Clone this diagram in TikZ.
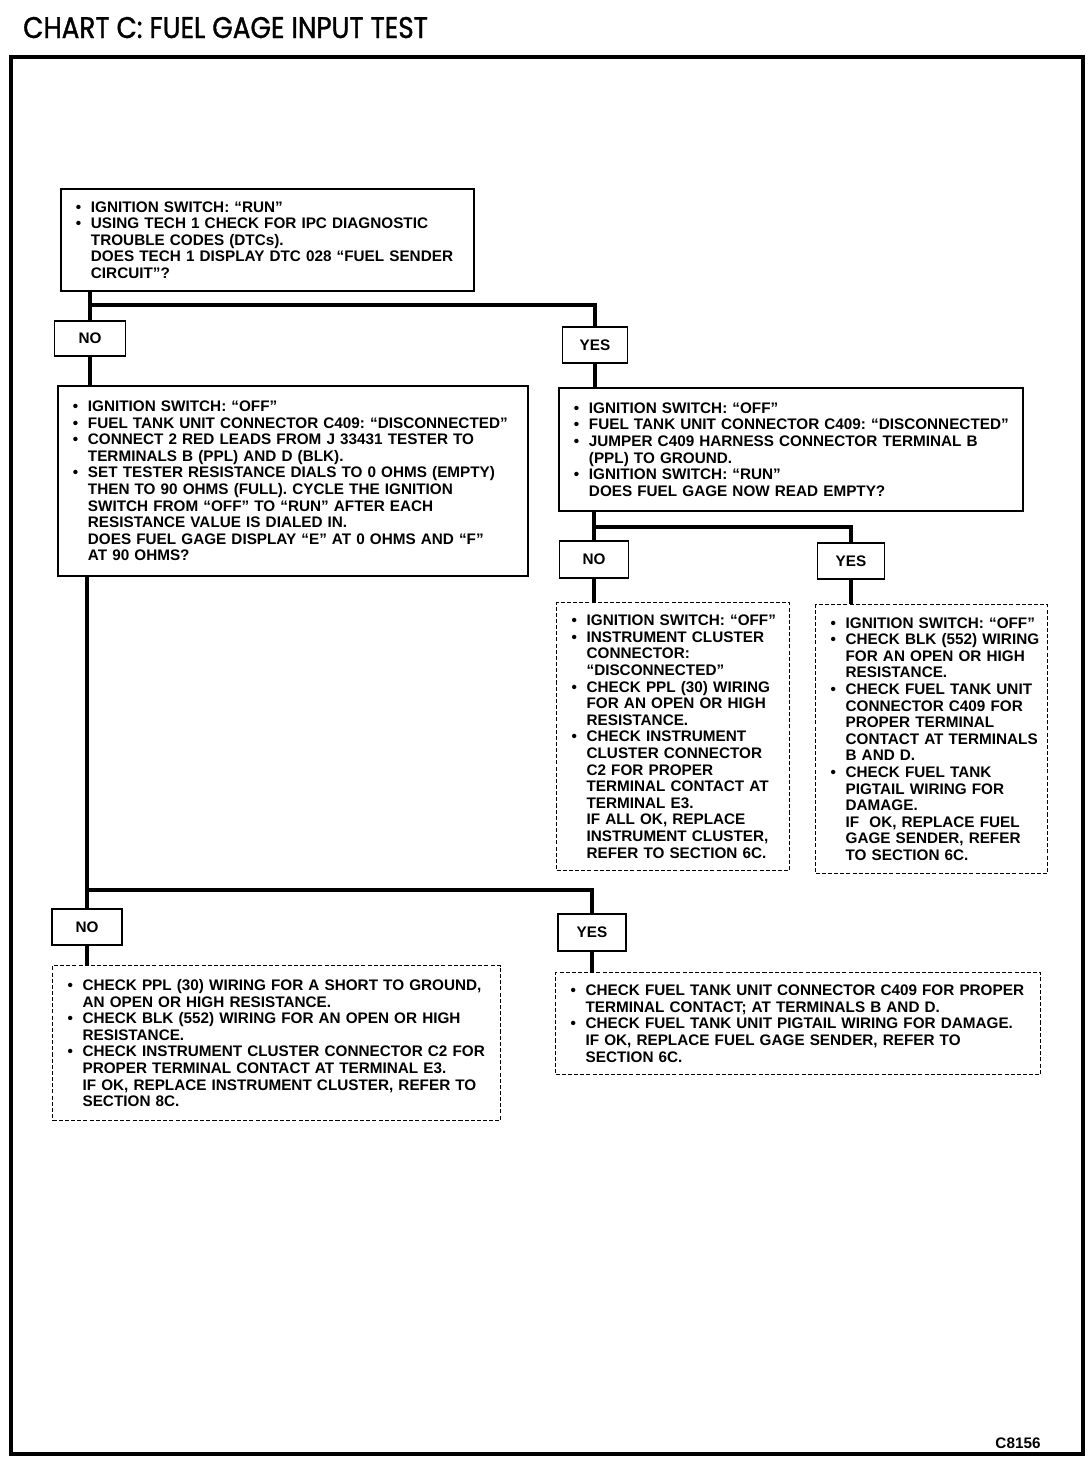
\documentclass[tikz,border=0pt]{standalone}
\usepackage{fontspec}
\newfontfamily\chartfont{Liberation Sans}
\newfontfamily\titlefont[FakeStretch=0.88,FakeBold=1.2]{Poppins}
\newcommand{\bpt}[1]{\mbox{\makebox[0.3cm][l]{\textbullet}#1}}
\newcommand{\ipt}[1]{\mbox{\hspace*{0.3cm}#1}}
\frenchspacing
\begin{document}
\begin{tikzpicture}[x=0.02cm,y=-0.02cm,
  txt/.style={font=\chartfont\bfseries\fontsize{8.7}{9.45}\selectfont},
  qbox/.style={txt,draw,line width=1.1pt,align=left,inner xsep=0.3cm,inner ysep=0pt,anchor=north west},
  chkbox/.style={qbox,line width=0.7pt,dash pattern=on 2.3pt off 1.2pt},
  ans/.style={txt,draw,line width=1.1pt,inner sep=0pt},
  flow/.style={line width=2.3pt}]
\useasboundingbox (0,0) rectangle (1088,1472);
\node[font=\titlefont\fontsize{17}{20}\selectfont,anchor=base west] (title) at (17,38) {CHART C: FUEL GAGE INPUT TEST};
\draw[line width=2.3pt] (11,57) rectangle (1083,1454);

\node[qbox,text width=7.66cm,minimum height=2.04cm] (q1) at (60,188)
{\bpt{IGNITION SWITCH: “RUN”}\\
 \bpt{USING TECH 1 CHECK FOR IPC DIAGNOSTIC}\\
 \ipt{TROUBLE CODES (DTCs).}\\
 \ipt{DOES TECH 1 DISPLAY DTC 028 “FUEL SENDER}\\
 \ipt{CIRCUIT”?}};

\node[ans,minimum width=1.42cm,minimum height=0.70cm] (no1) at (90,338.5) {NO};
\node[ans,minimum width=1.30cm,minimum height=0.72cm] (yes1) at (595,345) {YES};

\node[qbox,text width=8.80cm,minimum height=3.80cm] (q2) at (57,385)
{\bpt{IGNITION SWITCH: “OFF”}\\
 \bpt{FUEL TANK UNIT CONNECTOR C409: “DISCONNECTED”}\\
 \bpt{CONNECT 2 RED LEADS FROM J 33431 TESTER TO}\\
 \ipt{TERMINALS B (PPL) AND D (BLK).}\\
 \bpt{SET TESTER RESISTANCE DIALS TO 0 OHMS (EMPTY)}\\
 \ipt{THEN TO 90 OHMS (FULL). CYCLE THE IGNITION}\\
 \ipt{SWITCH FROM “OFF” TO “RUN” AFTER EACH}\\
 \ipt{RESISTANCE VALUE IS DIALED IN.}\\
 \ipt{DOES FUEL GAGE DISPLAY “E” AT 0 OHMS AND “F”}\\
 \ipt{AT 90 OHMS?}};

\node[qbox,text width=8.68cm,minimum height=2.46cm] (q3) at (558,387)
{\bpt{IGNITION SWITCH: “OFF”}\\
 \bpt{FUEL TANK UNIT CONNECTOR C409: “DISCONNECTED”}\\
 \bpt{JUMPER C409 HARNESS CONNECTOR TERMINAL B}\\
 \ipt{(PPL) TO GROUND.}\\
 \bpt{IGNITION SWITCH: “RUN”}\\
 \ipt{DOES FUEL GAGE NOW READ EMPTY?}};

\node[ans,minimum width=1.38cm,minimum height=0.74cm] (no2) at (594,559.5) {NO};
\node[ans,minimum width=1.34cm,minimum height=0.72cm] (yes2) at (851,561) {YES};

\node[chkbox,text width=4.06cm,minimum height=5.36cm] (c4) at (556,602)
{\bpt{IGNITION SWITCH: “OFF”}\\
 \bpt{INSTRUMENT CLUSTER}\\
 \ipt{CONNECTOR:}\\
 \ipt{“DISCONNECTED”}\\
 \bpt{CHECK PPL (30) WIRING}\\
 \ipt{FOR AN OPEN OR HIGH}\\
 \ipt{RESISTANCE.}\\
 \bpt{CHECK INSTRUMENT}\\
 \ipt{CLUSTER CONNECTOR}\\
 \ipt{C2 FOR PROPER}\\
 \ipt{TERMINAL CONTACT AT}\\
 \ipt{TERMINAL E3.}\\
 \ipt{IF ALL OK, REPLACE}\\
 \ipt{INSTRUMENT CLUSTER,}\\
 \ipt{REFER TO SECTION 6C.}};

\node[chkbox,text width=4.04cm,minimum height=5.38cm] (c5) at (815,604)
{\bpt{IGNITION SWITCH: “OFF”}\\
 \bpt{CHECK BLK (552) WIRING}\\
 \ipt{FOR AN OPEN OR HIGH}\\
 \ipt{RESISTANCE.}\\
 \bpt{CHECK FUEL TANK UNIT}\\
 \ipt{CONNECTOR C409 FOR}\\
 \ipt{PROPER TERMINAL}\\
 \ipt{CONTACT AT TERMINALS}\\
 \ipt{B AND D.}\\
 \bpt{CHECK FUEL TANK}\\
 \ipt{PIGTAIL WIRING FOR}\\
 \ipt{DAMAGE.}\\
 \ipt{IF\ \ OK, REPLACE FUEL}\\
 \ipt{GAGE SENDER, REFER}\\
 \ipt{TO SECTION 6C.}};

\node[ans,minimum width=1.40cm,minimum height=0.72cm] (no3) at (87,927) {NO};
\node[ans,minimum width=1.36cm,minimum height=0.74cm] (yes3) at (592,932.5) {YES};

\node[chkbox,text width=8.36cm,minimum height=3.10cm] (c6) at (52,965)
{\bpt{CHECK PPL (30) WIRING FOR A SHORT TO GROUND,}\\
 \ipt{AN OPEN OR HIGH RESISTANCE.}\\
 \bpt{CHECK BLK (552) WIRING FOR AN OPEN OR HIGH}\\
 \ipt{RESISTANCE.}\\
 \bpt{CHECK INSTRUMENT CLUSTER CONNECTOR C2 FOR}\\
 \ipt{PROPER TERMINAL CONTACT AT TERMINAL E3.}\\
 \ipt{IF OK, REPLACE INSTRUMENT CLUSTER, REFER TO}\\
 \ipt{SECTION 8C.}};

\node[chkbox,text width=9.10cm,minimum height=2.04cm] (c7) at (555,972)
{\bpt{CHECK FUEL TANK UNIT CONNECTOR C409 FOR PROPER}\\
 \ipt{TERMINAL CONTACT; AT TERMINALS B AND D.}\\
 \bpt{CHECK FUEL TANK UNIT PIGTAIL WIRING FOR DAMAGE.}\\
 \ipt{IF OK, REPLACE FUEL GAGE SENDER, REFER TO}\\
 \ipt{SECTION 6C.}};

\node[txt] (fig) at (1018,1443) {C8156};

\coordinate (br1) at (0,305);
\coordinate (br2) at (0,527);
\coordinate (br3) at (0,890);

\draw[flow] (no1.north |- q1.south) -- (no1.north);
\draw[flow] (no1.north |- br1) -| (yes1.north);
\draw[flow] (no1.south) -- (no1.south |- q2.north);
\draw[flow] (yes1.south) -- (yes1.south |- q3.north);

\draw[flow] (no2.north |- q3.south) -- (no2.north);
\draw[flow] (no2.north |- br2) -| (yes2.north);
\draw[flow] (no2.south) -- (no2.south |- c4.north);
\draw[flow] (yes2.south) -- (yes2.south |- c5.north);

\draw[flow] (no3.north |- q2.south) -- (no3.north);
\draw[flow] (no3.north |- br3) -| (yes3.north);
\draw[flow] (no3.south) -- (no3.south |- c6.north);
\draw[flow] (yes3.south) -- (yes3.south |- c7.north);
\end{tikzpicture}
\end{document}
